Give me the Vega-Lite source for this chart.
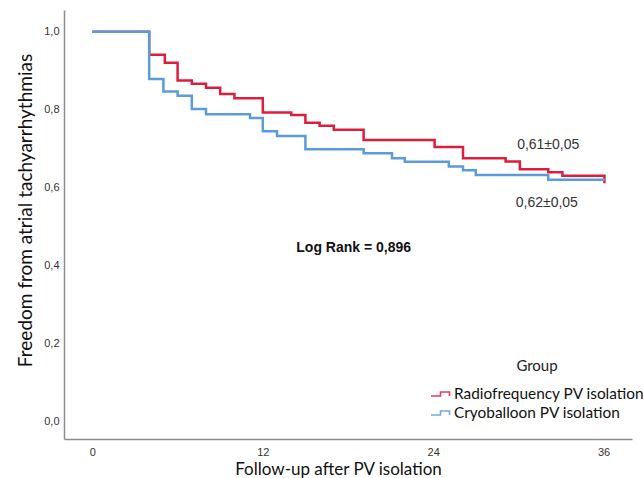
{
  "$schema": "https://vega.github.io/schema/vega-lite/v6.json",
  "width": 568,
  "height": 429,
  "autosize": "none",
  "padding": {"left": 64, "top": 10, "right": 12, "bottom": 39},
  "background": "white",
  "config": {
    "view": {"stroke": null},
    "axis": {
      "grid": false,
      "ticks": false,
      "domainColor": "#8c8c8c",
      "domainWidth": 1.5,
      "labelFont": "Liberation Sans",
      "labelFontSize": 11,
      "labelColor": "#333333",
      "titleFont": "Lato",
      "titleFontWeight": "normal",
      "titleFontSize": 18,
      "titleColor": "#111111"
    },
    "legend": {
      "orient": "none",
      "legendX": 366,
      "legendY": 349,
      "titleFont": "Lato",
      "titleFontSize": 15,
      "titleFontWeight": "normal",
      "titleColor": "#222222",
      "titleAnchor": "middle",
      "titleAlign": "center",
      "titlePadding": 11,
      "symbolType": "M-1,0.2H-0.05V-0.2H0.85V0.2",
      "symbolSize": 400,
      "symbolStrokeWidth": 1.6,
      "symbolFillColor": "transparent",
      "symbolOpacity": 0.85,
      "labelFont": "Lato",
      "labelFontSize": 15.4,
      "labelLimit": 400,
      "labelColor": "#111111",
      "labelOffset": 2,
      "rowPadding": 1,
      "clipHeight": 18
    }
  },
  "datasets": {
    "km": [
      {"group": "Radiofrequency PV isolation", "month": 0, "surv": 1.0},
      {"group": "Radiofrequency PV isolation", "month": 4, "surv": 0.941},
      {"group": "Radiofrequency PV isolation", "month": 5.1, "surv": 0.921},
      {"group": "Radiofrequency PV isolation", "month": 6, "surv": 0.875},
      {"group": "Radiofrequency PV isolation", "month": 7, "surv": 0.867},
      {"group": "Radiofrequency PV isolation", "month": 8, "surv": 0.857},
      {"group": "Radiofrequency PV isolation", "month": 9, "surv": 0.841},
      {"group": "Radiofrequency PV isolation", "month": 10, "surv": 0.83},
      {"group": "Radiofrequency PV isolation", "month": 12, "surv": 0.793},
      {"group": "Radiofrequency PV isolation", "month": 14, "surv": 0.787},
      {"group": "Radiofrequency PV isolation", "month": 15, "surv": 0.767},
      {"group": "Radiofrequency PV isolation", "month": 16, "surv": 0.759},
      {"group": "Radiofrequency PV isolation", "month": 17, "surv": 0.749},
      {"group": "Radiofrequency PV isolation", "month": 19.1, "surv": 0.723},
      {"group": "Radiofrequency PV isolation", "month": 24.1, "surv": 0.705},
      {"group": "Radiofrequency PV isolation", "month": 26.1, "surv": 0.676},
      {"group": "Radiofrequency PV isolation", "month": 29.1, "surv": 0.668},
      {"group": "Radiofrequency PV isolation", "month": 30.1, "surv": 0.648},
      {"group": "Radiofrequency PV isolation", "month": 32.1, "surv": 0.64},
      {"group": "Radiofrequency PV isolation", "month": 33.1, "surv": 0.631},
      {"group": "Radiofrequency PV isolation", "month": 36.06, "surv": 0.612},
      {"group": "Cryoballoon PV isolation", "month": 0, "surv": 1.0},
      {"group": "Cryoballoon PV isolation", "month": 4, "surv": 0.879},
      {"group": "Cryoballoon PV isolation", "month": 5, "surv": 0.847},
      {"group": "Cryoballoon PV isolation", "month": 6, "surv": 0.836},
      {"group": "Cryoballoon PV isolation", "month": 7, "surv": 0.802},
      {"group": "Cryoballoon PV isolation", "month": 8, "surv": 0.789},
      {"group": "Cryoballoon PV isolation", "month": 11.1, "surv": 0.779},
      {"group": "Cryoballoon PV isolation", "month": 12, "surv": 0.745},
      {"group": "Cryoballoon PV isolation", "month": 13, "surv": 0.733},
      {"group": "Cryoballoon PV isolation", "month": 15, "surv": 0.699},
      {"group": "Cryoballoon PV isolation", "month": 19.1, "surv": 0.689},
      {"group": "Cryoballoon PV isolation", "month": 21.1, "surv": 0.676},
      {"group": "Cryoballoon PV isolation", "month": 22, "surv": 0.667},
      {"group": "Cryoballoon PV isolation", "month": 25.1, "surv": 0.655},
      {"group": "Cryoballoon PV isolation", "month": 26.1, "surv": 0.645},
      {"group": "Cryoballoon PV isolation", "month": 27, "surv": 0.633},
      {"group": "Cryoballoon PV isolation", "month": 32.1, "surv": 0.621},
      {"group": "Cryoballoon PV isolation", "month": 36.06, "surv": 0.619}
    ],
    "notes": [
      {"month": 32.1, "surv": 0.71, "label": "0,61±0,05"},
      {"month": 32.0, "surv": 0.5615, "label": "0,62±0,05"}
    ],
    "logrank": [
      {"month": 18.4, "surv": 0.446, "label": "Log Rank = 0,896"}
    ]
  },
  "layer": [
    {
      "data": {"name": "km"},
      "transform": [{"filter": "datum.group == 'Radiofrequency PV isolation'"}],
      "mark": {"type": "line", "interpolate": "step-after", "strokeWidth": 2.5},
      "encoding": {
        "x": {
          "field": "month",
          "type": "quantitative",
          "scale": {"domain": [-2, 38], "nice": false, "zero": false},
          "axis": {
            "values": [0, 12, 24, 36],
            "labelPadding": 7,
            "title": "Follow-up after PV isolation",
            "titleFontSize": 17,
            "titleX": 274,
            "titleY": 35,
            "titleAlign": "center",
            "titleBaseline": "alphabetic"
          }
        },
        "y": {
          "field": "surv",
          "type": "quantitative",
          "scale": {"domain": [-0.0436, 1.056], "nice": false, "zero": false},
          "axis": {
            "values": [0, 0.2, 0.4, 0.6, 0.8, 1.0],
            "labelExpr": "replace(format(datum.value, '.1f'), '.', ',')",
            "labelPadding": 5,
            "title": "Freedom from atrial tachyarrhythmias",
            "titleFontSize": 19,
            "titleX": -33,
            "titleY": 200,
            "titleAlign": "center",
            "titleBaseline": "alphabetic"
          }
        },
        "color": {
          "field": "group",
          "type": "nominal",
          "scale": {
            "domain": ["Radiofrequency PV isolation", "Cryoballoon PV isolation"],
            "range": ["#dc1e3c", "#5a9bd8"]
          },
          "legend": {"title": "Group"}
        }
      }
    },
    {
      "data": {"name": "km"},
      "transform": [{"filter": "datum.group == 'Cryoballoon PV isolation'"}],
      "mark": {"type": "line", "interpolate": "step-after", "strokeWidth": 2.5},
      "encoding": {
        "x": {"field": "month", "type": "quantitative"},
        "y": {"field": "surv", "type": "quantitative"},
        "color": {"field": "group", "type": "nominal"}
      }
    },
    {
      "data": {"name": "notes"},
      "mark": {"type": "text", "font": "Liberation Sans", "fontSize": 14, "color": "#333333", "align": "center", "baseline": "middle"},
      "encoding": {
        "x": {"field": "month", "type": "quantitative"},
        "y": {"field": "surv", "type": "quantitative"},
        "text": {"field": "label"}
      }
    },
    {
      "data": {"name": "logrank"},
      "mark": {"type": "text", "font": "Liberation Sans", "fontSize": 14, "fontWeight": "bold", "color": "#111111", "align": "center", "baseline": "middle"},
      "encoding": {
        "x": {"field": "month", "type": "quantitative"},
        "y": {"field": "surv", "type": "quantitative"},
        "text": {"field": "label"}
      }
    }
  ]
}
